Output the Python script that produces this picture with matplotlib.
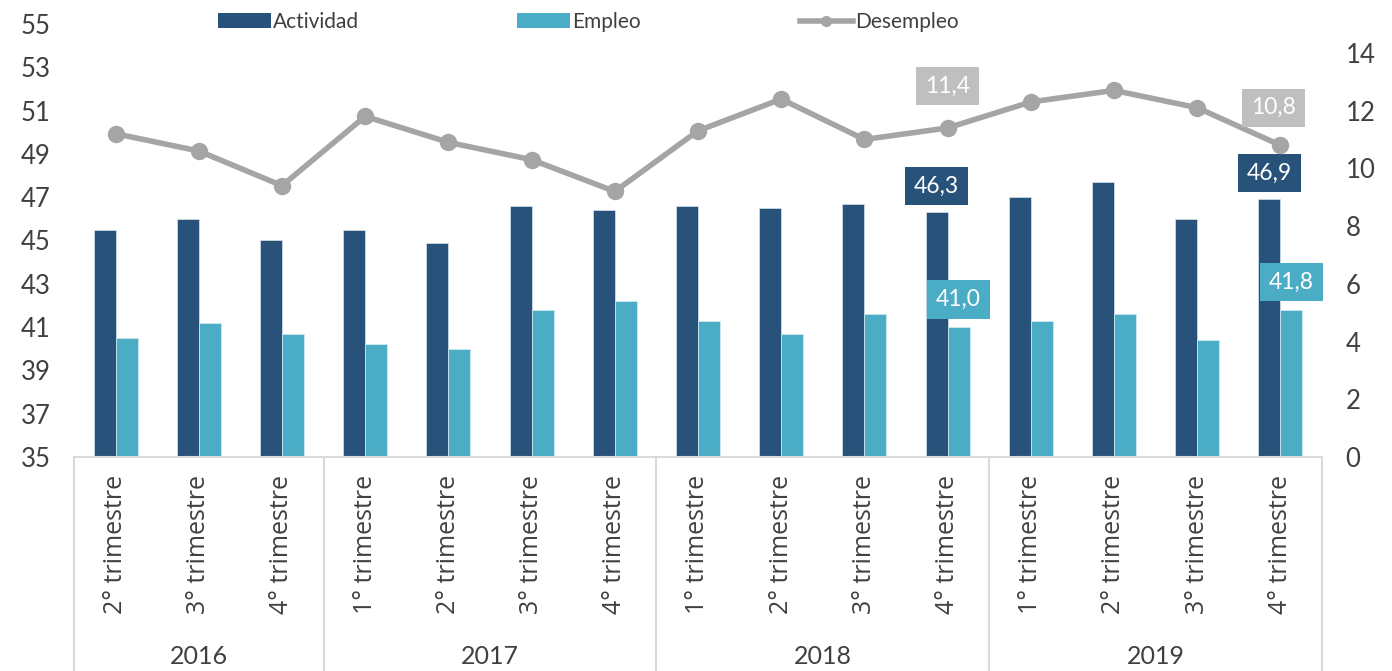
import matplotlib
matplotlib.use("Agg")
import matplotlib.pyplot as plt
import matplotlib.transforms as mtransforms
from matplotlib.lines import Line2D
from matplotlib.patches import Patch
import numpy as np

quarters = ["2° trimestre", "3° trimestre", "4° trimestre",
            "1° trimestre", "2° trimestre", "3° trimestre", "4° trimestre",
            "1° trimestre", "2° trimestre", "3° trimestre", "4° trimestre",
            "1° trimestre", "2° trimestre", "3° trimestre", "4° trimestre"]
years = ["2016", "2017", "2018", "2019"]
year_sizes = [3, 4, 4, 4]
actividad = [45.5, 46.0, 45.0, 45.5, 44.9, 46.6, 46.4, 46.6, 46.5, 46.7, 46.3, 47.0, 47.7, 46.0, 46.9]
empleo = [40.5, 41.2, 40.7, 40.2, 40.0, 41.8, 42.2, 41.3, 40.7, 41.6, 41.0, 41.3, 41.6, 40.4, 41.8]
desempleo = [11.2, 10.6, 9.4, 11.8, 10.9, 10.3, 9.2, 11.3, 12.4, 11.0, 11.4, 12.3, 12.7, 12.1, 10.8]
labeled_idx = [10, 14]

C_ACT = "#29527A"
C_EMP = "#4BACC6"
C_DES = "#A5A5A5"
C_LBL = "#BFBFBF"
TXT = "#404040"
GRID = "#D9D9D9"

NUM_FONT = ["Lato", "DejaVu Sans"]
CAT_FONT = ["Open Sans", "Noto Sans", "DejaVu Sans"]

fig = plt.figure(figsize=(13.92, 6.71), dpi=100)
ax = fig.add_axes([74/1392, 1-457/671, (1322-74)/1392, (457-24)/671])
ax2 = ax.twinx()

x = np.arange(len(quarters))
w = 0.265
ax.bar(x - w/2, actividad, w, color=C_ACT, edgecolor="#D6E4EE", linewidth=0.5, zorder=2)
ax.bar(x + w/2, empleo, w, color=C_EMP, edgecolor="#D6EEF4", linewidth=0.5, zorder=2)
ax.set_ylim(35, 55)
ax.set_yticks(np.arange(35, 56, 2))
ax.set_xlim(-0.5, len(quarters) - 0.5)

ax2.plot(x, desempleo, color=C_DES, lw=4, marker="o", ms=11.5, zorder=3)
ax2.set_ylim(0, 15)
ax2.set_yticks(np.arange(0, 15, 2))

ax.set_zorder(1)
ax2.set_zorder(2)
ax.patch.set_visible(False)

for a in (ax, ax2):
    for s in a.spines.values():
        s.set_visible(False)
    a.tick_params(axis="y", length=0, pad=17, labelsize=18.5, labelcolor=TXT)
    for lab in a.get_yticklabels():
        lab.set_fontfamily(NUM_FONT)

ax.spines["bottom"].set_visible(True)
ax.spines["bottom"].set_color(GRID)
ax.spines["bottom"].set_linewidth(1.5)

ax.set_xticks(x)
ax.set_xticklabels(quarters, rotation=90, fontsize=18, family=CAT_FONT, color=TXT)
ax.tick_params(axis="x", length=0, pad=13)

trans = mtransforms.blended_transform_factory(ax.transData, ax.transAxes)
bounds = np.concatenate([[0], np.cumsum(year_sizes)]) - 0.5
ybot = (457 - 671) / 433
for b in bounds:
    ax.add_line(Line2D([b, b], [0, ybot], transform=trans, color=GRID, lw=1.5, clip_on=False))
for i, yr in enumerate(years):
    cx = (bounds[i] + bounds[i + 1]) / 2
    ax.text(cx, (457 - 657) / 433, yr, transform=trans, ha="center", va="center",
            fontsize=18, family=NUM_FONT, color=TXT)

def fmt(v):
    return f"{v:.1f}".replace(".", ",")

for i in labeled_idx:
    ax.annotate(fmt(actividad[i]), xy=(x[i] - w/2, actividad[i]), xytext=(0, 19),
                textcoords="offset points", ha="center", va="center", fontsize=16.5,
                family=NUM_FONT, color="white", zorder=5,
                bbox=dict(boxstyle="square,pad=0.38", fc=C_ACT, ec="none"))
    ax.annotate(fmt(empleo[i]), xy=(x[i] + w/2, empleo[i]), xytext=(0, 20),
                textcoords="offset points", ha="center", va="center", fontsize=16.5,
                family=NUM_FONT, color="white", zorder=5,
                bbox=dict(boxstyle="square,pad=0.38", fc=C_EMP, ec="none"))
des_off = {10: (0, 30), 14: (-5, 27)}
for i in labeled_idx:
    ax2.annotate(fmt(desempleo[i]), xy=(x[i], desempleo[i]), xytext=des_off[i],
                 textcoords="offset points", ha="center", va="center", fontsize=16.5,
                 family=NUM_FONT, color="white", zorder=5,
                 bbox=dict(boxstyle="square,pad=0.38", fc=C_LBL, ec="none"))

handles = [Patch(facecolor=C_ACT), Patch(facecolor=C_EMP),
           Line2D([], [], color=C_DES, lw=4, marker="o", ms=7)]
leg = fig.legend(handles, ["Actividad", "Empleo", "Desempleo"], loc="center",
                 bbox_to_anchor=(588/1392, 1 - 22/671), ncol=3, frameon=False,
                 handlelength=2.55, handleheight=0.72, handletextpad=0.1, columnspacing=7.6,
                 prop={"family": NUM_FONT, "size": 15})
for t in leg.get_texts():
    t.set_color(TXT)

fig.savefig("out.png", dpi=100)
